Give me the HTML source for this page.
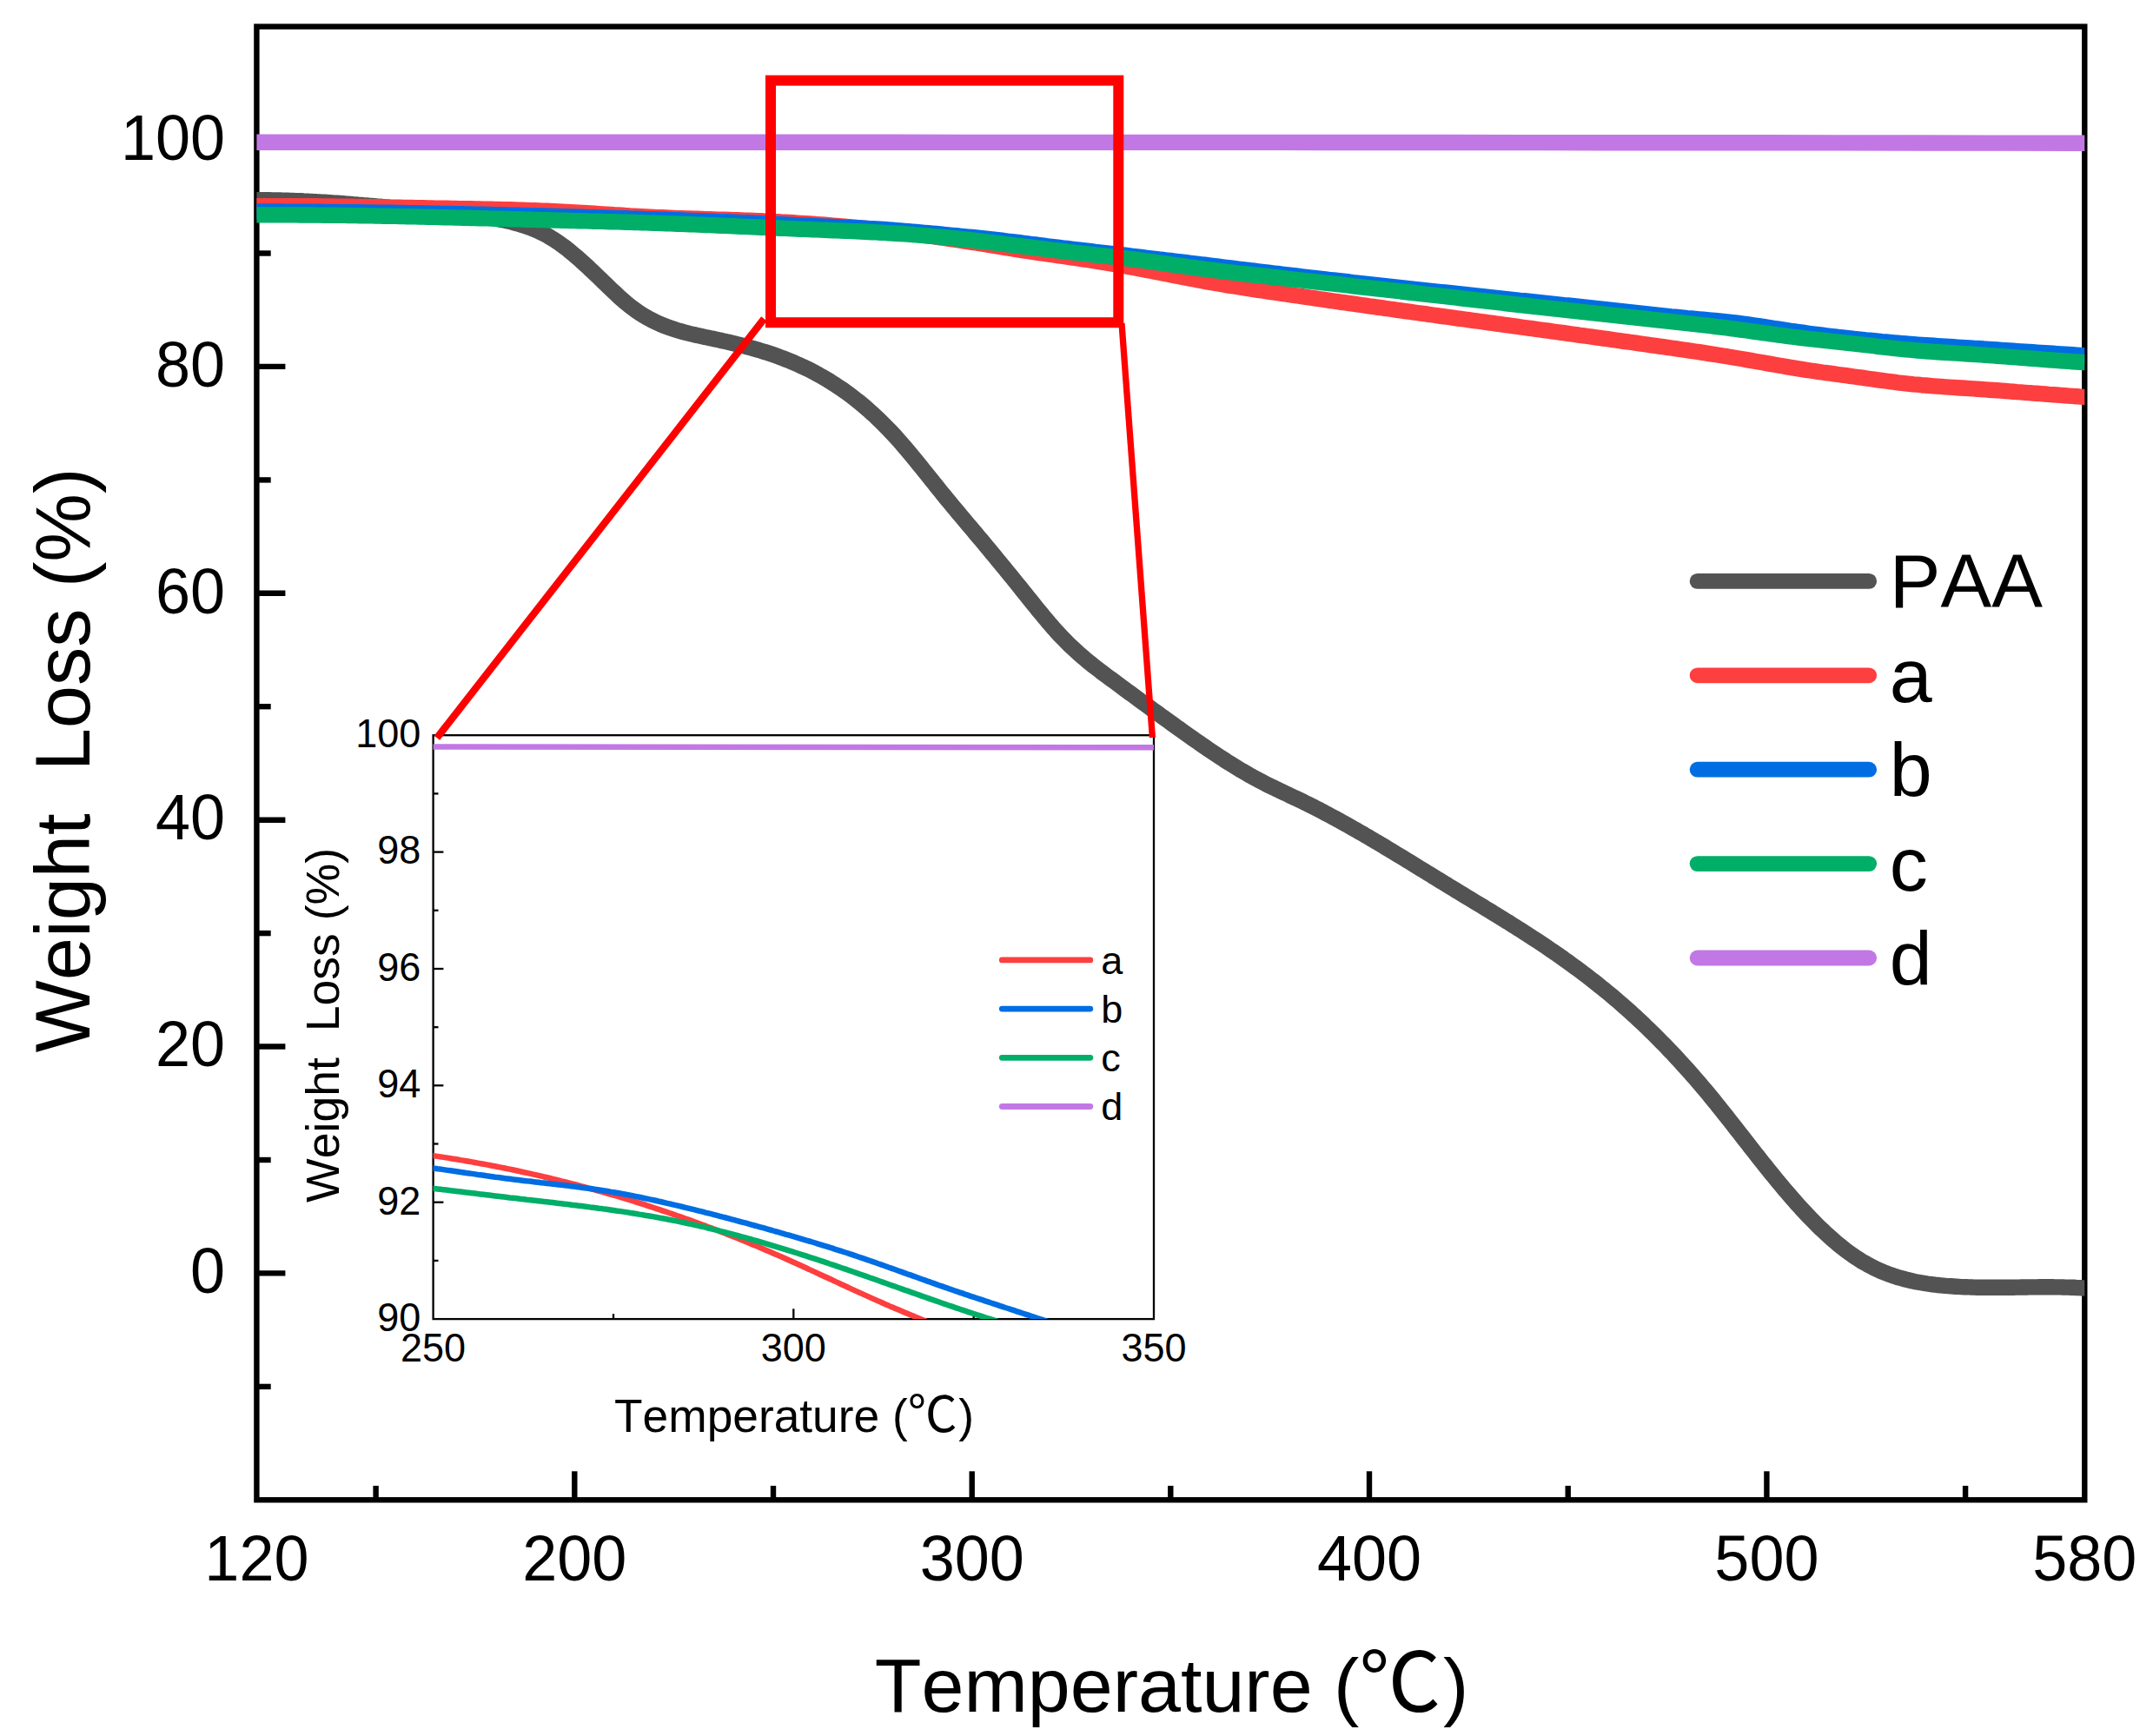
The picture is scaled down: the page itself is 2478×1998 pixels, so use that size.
<!DOCTYPE html>
<html lang="en"><head><meta charset="utf-8"><title>TGA weight loss curves</title>
<style>html,body{margin:0;padding:0;background:#fff}svg{display:block}text{font-family:"Liberation Sans", "Noto Sans CJK SC", sans-serif;fill:#000;font-kerning:none;white-space:pre}</style></head><body>
<svg width="2478" height="1998" viewBox="0 0 2478 1998">
<rect x="0" y="0" width="2478" height="1998" fill="#fff"/>
<defs>
<clipPath id="cm"><rect x="295.4" y="30.6" width="2103.9" height="1695.7"/></clipPath>
<clipPath id="ci"><rect x="498.6" y="846.2" width="829.4" height="671.9"/></clipPath>
</defs>
<g stroke="#000" stroke-width="6.4" fill="none">
<rect x="295.4" y="30.6" width="2103.9" height="1695.7"/>
<line x1="295.4" y1="1465.4" x2="328.4" y2="1465.4"/>
<line x1="295.4" y1="1204.5" x2="328.4" y2="1204.5"/>
<line x1="295.4" y1="943.7" x2="328.4" y2="943.7"/>
<line x1="295.4" y1="682.8" x2="328.4" y2="682.8"/>
<line x1="295.4" y1="421.9" x2="328.4" y2="421.9"/>
<line x1="295.4" y1="161.0" x2="328.4" y2="161.0"/>
<line x1="295.4" y1="1595.9" x2="311.7" y2="1595.9"/>
<line x1="295.4" y1="1335.0" x2="311.7" y2="1335.0"/>
<line x1="295.4" y1="1074.1" x2="311.7" y2="1074.1"/>
<line x1="295.4" y1="813.2" x2="311.7" y2="813.2"/>
<line x1="295.4" y1="552.4" x2="311.7" y2="552.4"/>
<line x1="295.4" y1="291.5" x2="311.7" y2="291.5"/>
<line x1="661.3" y1="1726.3" x2="661.3" y2="1693.3"/>
<line x1="1118.7" y1="1726.3" x2="1118.7" y2="1693.3"/>
<line x1="1576.0" y1="1726.3" x2="1576.0" y2="1693.3"/>
<line x1="2033.4" y1="1726.3" x2="2033.4" y2="1693.3"/>
<line x1="432.6" y1="1726.3" x2="432.6" y2="1710.0"/>
<line x1="890.0" y1="1726.3" x2="890.0" y2="1710.0"/>
<line x1="1347.3" y1="1726.3" x2="1347.3" y2="1710.0"/>
<line x1="1804.7" y1="1726.3" x2="1804.7" y2="1710.0"/>
<line x1="2262.1" y1="1726.3" x2="2262.1" y2="1710.0"/>
</g>
<g clip-path="url(#cm)" fill="none" stroke-width="18.4" stroke-linejoin="round">
<polyline stroke="#535353" points="287.4,230.3 295.4,230.3 298.4,230.3 301.4,230.3 304.4,230.3 307.4,230.3 310.4,230.3 313.4,230.4 316.4,230.4 319.4,230.5 322.4,230.5 325.4,230.6 328.4,230.7 331.4,230.8 334.4,230.9 337.4,231.0 340.4,231.1 343.4,231.2 346.4,231.3 349.4,231.5 352.4,231.6 355.4,231.8 358.4,231.9 361.4,232.1 364.4,232.3 367.4,232.4 370.4,232.6 373.4,232.8 376.4,233.0 379.4,233.2 382.4,233.4 385.4,233.6 388.4,233.8 391.4,234.0 394.4,234.2 397.4,234.5 400.4,234.7 403.4,234.9 406.4,235.2 409.4,235.4 412.4,235.7 415.4,235.9 418.4,236.2 421.4,236.4 424.4,236.7 427.4,236.9 430.4,237.2 433.4,237.5 436.4,237.7 439.4,238.0 442.4,238.3 445.4,238.6 448.4,238.9 451.4,239.1 454.4,239.4 457.4,239.7 460.4,240.0 463.4,240.3 466.4,240.6 469.4,240.9 472.4,241.1 475.4,241.4 478.4,241.7 481.4,242.0 484.4,242.3 487.4,242.6 490.4,242.9 493.4,243.2 496.4,243.5 499.4,243.8 502.4,244.0 505.4,244.3 508.4,244.6 511.4,244.9 514.4,245.2 517.4,245.5 520.4,245.7 523.4,246.0 526.4,246.3 529.4,246.6 532.4,246.9 535.4,247.2 538.4,247.5 541.4,247.8 544.4,248.1 547.4,248.4 550.4,248.8 553.4,249.1 556.4,249.5 559.4,249.9 562.4,250.4 565.4,250.8 568.4,251.3 571.4,251.8 574.4,252.4 577.4,253.0 580.4,253.6 583.4,254.2 586.4,254.9 589.4,255.7 592.4,256.5 595.4,257.3 598.4,258.2 601.4,259.1 604.4,260.0 607.4,261.1 610.4,262.2 613.4,263.3 616.4,264.6 619.4,265.9 622.4,267.3 625.4,268.8 628.4,270.3 631.4,272.0 634.4,273.8 637.4,275.6 640.4,277.6 643.4,279.6 646.4,281.8 649.4,284.0 652.4,286.3 655.4,288.7 658.4,291.2 661.4,293.7 664.4,296.3 667.4,298.9 670.4,301.6 673.4,304.3 676.4,307.1 679.4,309.9 682.4,312.7 685.4,315.6 688.4,318.5 691.4,321.4 694.4,324.3 697.4,327.2 700.4,330.1 703.4,333.0 706.4,335.8 709.4,338.6 712.4,341.4 715.4,344.1 718.4,346.7 721.4,349.2 724.4,351.7 727.4,354.0 730.4,356.3 733.4,358.4 736.4,360.4 739.4,362.3 742.4,364.1 745.4,365.9 748.4,367.5 751.4,369.0 754.4,370.5 757.4,371.9 760.4,373.2 763.4,374.5 766.4,375.6 769.4,376.8 772.4,377.8 775.4,378.8 778.4,379.8 781.4,380.7 784.4,381.5 787.4,382.3 790.4,383.1 793.4,383.9 796.4,384.6 799.4,385.3 802.4,386.0 805.4,386.6 808.4,387.3 811.4,387.9 814.4,388.6 817.4,389.2 820.4,389.8 823.4,390.5 826.4,391.1 829.4,391.8 832.4,392.5 835.4,393.1 838.4,393.8 841.4,394.5 844.4,395.2 847.4,396.0 850.4,396.7 853.4,397.5 856.4,398.2 859.4,399.0 862.4,399.8 865.4,400.7 868.4,401.5 871.4,402.4 874.4,403.3 877.4,404.2 880.4,405.1 883.4,406.1 886.4,407.1 889.4,408.1 892.4,409.1 895.4,410.2 898.4,411.3 901.4,412.4 904.4,413.6 907.4,414.8 910.4,416.0 913.4,417.3 916.4,418.6 919.4,419.9 922.4,421.3 925.4,422.7 928.4,424.1 931.4,425.6 934.4,427.1 937.4,428.7 940.4,430.3 943.4,432.0 946.4,433.6 949.4,435.4 952.4,437.2 955.4,439.0 958.4,440.9 961.4,442.8 964.4,444.8 967.4,446.8 970.4,448.9 973.4,451.0 976.4,453.2 979.4,455.4 982.4,457.7 985.4,460.1 988.4,462.4 991.4,464.9 994.4,467.4 997.4,470.0 1000.4,472.6 1003.4,475.3 1006.4,478.0 1009.4,480.9 1012.4,483.7 1015.4,486.7 1018.4,489.7 1021.4,492.7 1024.4,495.9 1027.4,499.0 1030.4,502.3 1033.4,505.6 1036.4,509.0 1039.4,512.5 1042.4,516.0 1045.4,519.5 1048.4,523.1 1051.4,526.8 1054.4,530.4 1057.4,534.1 1060.4,537.8 1063.4,541.6 1066.4,545.3 1069.4,549.0 1072.4,552.8 1075.4,556.5 1078.4,560.3 1081.4,564.0 1084.4,567.7 1087.4,571.4 1090.4,575.1 1093.4,578.7 1096.4,582.3 1099.4,585.9 1102.4,589.5 1105.4,593.1 1108.4,596.7 1111.4,600.2 1114.4,603.8 1117.4,607.3 1120.4,610.9 1123.4,614.5 1126.4,618.1 1129.4,621.6 1132.4,625.2 1135.4,628.8 1138.4,632.4 1141.4,636.1 1144.4,639.7 1147.4,643.3 1150.4,647.0 1153.4,650.6 1156.4,654.3 1159.4,658.0 1162.4,661.6 1165.4,665.3 1168.4,669.0 1171.4,672.7 1174.4,676.4 1177.4,680.2 1180.4,683.9 1183.4,687.7 1186.4,691.4 1189.4,695.1 1192.4,698.9 1195.4,702.6 1198.4,706.2 1201.4,709.8 1204.4,713.4 1207.4,717.0 1210.4,720.4 1213.4,723.9 1216.4,727.2 1219.4,730.5 1222.4,733.6 1225.4,736.7 1228.4,739.7 1231.4,742.7 1234.4,745.5 1237.4,748.3 1240.4,751.1 1243.4,753.7 1246.4,756.3 1249.4,758.9 1252.4,761.4 1255.4,763.8 1258.4,766.2 1261.4,768.5 1264.4,770.8 1267.4,773.1 1270.4,775.4 1273.4,777.6 1276.4,779.8 1279.4,782.0 1282.4,784.2 1285.4,786.4 1288.4,788.6 1291.4,790.8 1294.4,793.1 1297.4,795.3 1300.4,797.5 1303.4,799.7 1306.4,801.9 1309.4,804.1 1312.4,806.3 1315.4,808.5 1318.4,810.7 1321.4,812.9 1324.4,815.1 1327.4,817.3 1330.4,819.5 1333.4,821.6 1336.4,823.8 1339.4,826.0 1342.4,828.2 1345.4,830.3 1348.4,832.5 1351.4,834.6 1354.4,836.8 1357.4,838.9 1360.4,841.1 1363.4,843.2 1366.4,845.4 1369.4,847.5 1372.4,849.6 1375.4,851.7 1378.4,853.8 1381.4,855.9 1384.4,858.0 1387.4,860.0 1390.4,862.1 1393.4,864.1 1396.4,866.1 1399.4,868.1 1402.4,870.1 1405.4,872.1 1408.4,874.0 1411.4,876.0 1414.4,877.9 1417.4,879.7 1420.4,881.6 1423.4,883.4 1426.4,885.3 1429.4,887.1 1432.4,888.8 1435.4,890.5 1438.4,892.3 1441.4,893.9 1444.4,895.6 1447.4,897.2 1450.4,898.8 1453.4,900.3 1456.4,901.9 1459.4,903.4 1462.4,904.9 1465.4,906.3 1468.4,907.8 1471.4,909.2 1474.4,910.7 1477.4,912.1 1480.4,913.5 1483.4,914.9 1486.4,916.4 1489.4,917.8 1492.4,919.2 1495.4,920.6 1498.4,922.1 1501.4,923.6 1504.4,925.0 1507.4,926.5 1510.4,928.0 1513.4,929.5 1516.4,931.1 1519.4,932.6 1522.4,934.2 1525.4,935.8 1528.4,937.4 1531.4,939.0 1534.4,940.6 1537.4,942.2 1540.4,943.8 1543.4,945.5 1546.4,947.2 1549.4,948.8 1552.4,950.5 1555.4,952.2 1558.4,953.9 1561.4,955.6 1564.4,957.4 1567.4,959.1 1570.4,960.8 1573.4,962.6 1576.4,964.3 1579.4,966.1 1582.4,967.9 1585.4,969.6 1588.4,971.4 1591.4,973.2 1594.4,975.0 1597.4,976.8 1600.4,978.6 1603.4,980.4 1606.4,982.3 1609.4,984.1 1612.4,985.9 1615.4,987.7 1618.4,989.6 1621.4,991.4 1624.4,993.2 1627.4,995.1 1630.4,996.9 1633.4,998.8 1636.4,1000.6 1639.4,1002.4 1642.4,1004.3 1645.4,1006.1 1648.4,1008.0 1651.4,1009.8 1654.4,1011.7 1657.4,1013.5 1660.4,1015.3 1663.4,1017.2 1666.4,1019.0 1669.4,1020.9 1672.4,1022.7 1675.4,1024.5 1678.4,1026.3 1681.4,1028.2 1684.4,1030.0 1687.4,1031.8 1690.4,1033.6 1693.4,1035.4 1696.4,1037.3 1699.4,1039.1 1702.4,1040.9 1705.4,1042.7 1708.4,1044.5 1711.4,1046.4 1714.4,1048.2 1717.4,1050.0 1720.4,1051.9 1723.4,1053.7 1726.4,1055.6 1729.4,1057.4 1732.4,1059.3 1735.4,1061.1 1738.4,1063.0 1741.4,1064.9 1744.4,1066.8 1747.4,1068.7 1750.4,1070.6 1753.4,1072.5 1756.4,1074.4 1759.4,1076.4 1762.4,1078.3 1765.4,1080.3 1768.4,1082.2 1771.4,1084.2 1774.4,1086.2 1777.4,1088.2 1780.4,1090.2 1783.4,1092.3 1786.4,1094.3 1789.4,1096.4 1792.4,1098.4 1795.4,1100.5 1798.4,1102.6 1801.4,1104.8 1804.4,1106.9 1807.4,1109.1 1810.4,1111.3 1813.4,1113.5 1816.4,1115.7 1819.4,1117.9 1822.4,1120.2 1825.4,1122.4 1828.4,1124.7 1831.4,1127.1 1834.4,1129.4 1837.4,1131.8 1840.4,1134.2 1843.4,1136.6 1846.4,1139.0 1849.4,1141.5 1852.4,1143.9 1855.4,1146.4 1858.4,1149.0 1861.4,1151.5 1864.4,1154.1 1867.4,1156.7 1870.4,1159.4 1873.4,1162.0 1876.4,1164.7 1879.4,1167.5 1882.4,1170.2 1885.4,1173.0 1888.4,1175.8 1891.4,1178.6 1894.4,1181.5 1897.4,1184.4 1900.4,1187.3 1903.4,1190.2 1906.4,1193.2 1909.4,1196.2 1912.4,1199.3 1915.4,1202.3 1918.4,1205.4 1921.4,1208.6 1924.4,1211.7 1927.4,1214.9 1930.4,1218.1 1933.4,1221.4 1936.4,1224.7 1939.4,1228.0 1942.4,1231.3 1945.4,1234.7 1948.4,1238.1 1951.4,1241.5 1954.4,1245.0 1957.4,1248.5 1960.4,1252.1 1963.4,1255.6 1966.4,1259.2 1969.4,1262.9 1972.4,1266.5 1975.4,1270.2 1978.4,1274.0 1981.4,1277.7 1984.4,1281.5 1987.4,1285.3 1990.4,1289.1 1993.4,1292.9 1996.4,1296.7 1999.4,1300.6 2002.4,1304.4 2005.4,1308.2 2008.4,1312.1 2011.4,1315.9 2014.4,1319.8 2017.4,1323.6 2020.4,1327.5 2023.4,1331.3 2026.4,1335.1 2029.4,1338.9 2032.4,1342.6 2035.4,1346.4 2038.4,1350.1 2041.4,1353.8 2044.4,1357.5 2047.4,1361.1 2050.4,1364.7 2053.4,1368.3 2056.4,1371.8 2059.4,1375.3 2062.4,1378.8 2065.4,1382.2 2068.4,1385.6 2071.4,1388.9 2074.4,1392.2 2077.4,1395.4 2080.4,1398.6 2083.4,1401.8 2086.4,1404.8 2089.4,1407.9 2092.4,1410.9 2095.4,1413.8 2098.4,1416.6 2101.4,1419.5 2104.4,1422.2 2107.4,1424.9 2110.4,1427.5 2113.4,1430.1 2116.4,1432.6 2119.4,1435.0 2122.4,1437.4 2125.4,1439.7 2128.4,1441.9 2131.4,1444.0 2134.4,1446.1 2137.4,1448.1 2140.4,1450.0 2143.4,1451.9 2146.4,1453.6 2149.4,1455.3 2152.4,1456.9 2155.4,1458.5 2158.4,1460.0 2161.4,1461.4 2164.4,1462.7 2167.4,1464.0 2170.4,1465.2 2173.4,1466.3 2176.4,1467.4 2179.4,1468.5 2182.4,1469.4 2185.4,1470.4 2188.4,1471.2 2191.4,1472.0 2194.4,1472.8 2197.4,1473.5 2200.4,1474.2 2203.4,1474.9 2206.4,1475.5 2209.4,1476.0 2212.4,1476.5 2215.4,1477.0 2218.4,1477.5 2221.4,1477.9 2224.4,1478.3 2227.4,1478.7 2230.4,1479.0 2233.4,1479.3 2236.4,1479.6 2239.4,1479.9 2242.4,1480.1 2245.4,1480.3 2248.4,1480.5 2251.4,1480.7 2254.4,1480.9 2257.4,1481.1 2260.4,1481.2 2263.4,1481.3 2266.4,1481.4 2269.4,1481.5 2272.4,1481.6 2275.4,1481.7 2278.4,1481.7 2281.4,1481.8 2284.4,1481.8 2287.4,1481.8 2290.4,1481.8 2293.4,1481.8 2296.4,1481.8 2299.4,1481.8 2302.4,1481.8 2305.4,1481.8 2308.4,1481.8 2311.4,1481.7 2314.4,1481.7 2317.4,1481.7 2320.4,1481.6 2323.4,1481.6 2326.4,1481.5 2329.4,1481.5 2332.4,1481.5 2335.4,1481.4 2338.4,1481.4 2341.4,1481.4 2344.4,1481.4 2347.4,1481.3 2350.4,1481.3 2353.4,1481.3 2356.4,1481.3 2359.4,1481.3 2362.4,1481.3 2365.4,1481.4 2368.4,1481.4 2371.4,1481.4 2374.4,1481.5 2377.4,1481.6 2380.4,1481.6 2383.4,1481.7 2386.4,1481.8 2389.4,1482.0 2392.4,1482.1 2395.4,1482.3 2398.4,1482.4 2399.3,1482.5 2407.3,1482.5"/>
<polyline stroke="#fd3f3f" points="286.3,237.2 290.8,237.2 295.4,237.2 300.0,237.2 304.5,237.2 309.1,237.1 313.7,237.1 318.3,237.1 322.8,237.1 327.4,237.1 332.0,237.1 336.6,237.1 341.1,237.2 345.7,237.2 350.3,237.2 354.9,237.2 359.4,237.3 364.0,237.3 368.6,237.4 373.2,237.4 377.7,237.4 382.3,237.5 386.9,237.6 391.4,237.6 396.0,237.7 400.6,237.7 405.2,237.8 409.7,237.9 414.3,238.0 418.9,238.0 423.5,238.1 428.0,238.2 432.6,238.3 437.2,238.3 441.8,238.4 446.3,238.5 450.9,238.6 455.5,238.7 460.1,238.8 464.6,238.9 469.2,238.9 473.8,239.0 478.3,239.1 482.9,239.2 487.5,239.3 492.1,239.4 496.6,239.5 501.2,239.6 505.8,239.6 510.4,239.7 514.9,239.8 519.5,239.9 524.1,240.0 528.7,240.1 533.2,240.1 537.8,240.2 542.4,240.3 547.0,240.4 551.5,240.5 556.1,240.6 560.7,240.7 565.2,240.8 569.8,240.9 574.4,241.0 579.0,241.1 583.5,241.2 588.1,241.3 592.7,241.5 597.3,241.6 601.8,241.7 606.4,241.9 611.0,242.1 615.6,242.2 620.1,242.4 624.7,242.6 629.3,242.8 633.9,243.0 638.4,243.2 643.0,243.5 647.6,243.7 652.1,243.9 656.7,244.2 661.3,244.5 665.9,244.7 670.4,245.0 675.0,245.3 679.6,245.5 684.2,245.8 688.7,246.1 693.3,246.4 697.9,246.7 702.5,247.0 707.0,247.3 711.6,247.5 716.2,247.8 720.8,248.1 725.3,248.4 729.9,248.6 734.5,248.9 739.0,249.1 743.6,249.4 748.2,249.6 752.8,249.9 757.3,250.1 761.9,250.3 766.5,250.5 771.1,250.7 775.6,250.9 780.2,251.1 784.8,251.2 789.4,251.4 793.9,251.5 798.5,251.7 803.1,251.8 807.7,252.0 812.2,252.1 816.8,252.3 821.4,252.4 825.9,252.6 830.5,252.7 835.1,252.8 839.7,253.0 844.2,253.1 848.8,253.3 853.4,253.5 858.0,253.6 862.5,253.8 867.1,254.0 871.7,254.2 876.3,254.3 880.8,254.6 885.4,254.8 890.0,255.0 894.6,255.2 899.1,255.5 903.7,255.7 908.3,256.0 912.8,256.3 917.4,256.6 922.0,256.9 926.6,257.2 931.1,257.5 935.7,257.8 940.3,258.1 944.9,258.5 949.4,258.8 954.0,259.2 958.6,259.6 963.2,259.9 967.7,260.3 972.3,260.7 976.9,261.1 981.5,261.6 986.0,262.0 990.6,262.4 995.2,262.9 999.7,263.3 1004.3,263.8 1008.9,264.3 1013.5,264.8 1018.0,265.3 1022.6,265.8 1027.2,266.3 1031.8,266.8 1036.3,267.4 1040.9,267.9 1045.5,268.5 1050.1,269.0 1054.6,269.6 1059.2,270.2 1063.8,270.8 1068.4,271.4 1072.9,272.0 1077.5,272.7 1082.1,273.3 1086.6,273.9 1091.2,274.6 1095.8,275.3 1100.4,276.0 1104.9,276.6 1109.5,277.4 1114.1,278.1 1118.7,278.8 1123.2,279.5 1127.8,280.3 1132.4,281.0 1137.0,281.7 1141.5,282.5 1146.1,283.2 1150.7,284.0 1155.3,284.7 1159.8,285.5 1164.4,286.2 1169.0,286.9 1173.5,287.6 1178.1,288.3 1182.7,289.0 1187.3,289.7 1191.8,290.4 1196.4,291.1 1201.0,291.7 1205.6,292.4 1210.1,293.0 1214.7,293.7 1219.3,294.3 1223.9,295.0 1228.4,295.7 1233.0,296.3 1237.6,297.0 1242.2,297.6 1246.7,298.3 1251.3,299.0 1255.9,299.7 1260.4,300.4 1265.0,301.1 1269.6,301.8 1274.2,302.6 1278.7,303.4 1283.3,304.1 1287.9,304.9 1292.5,305.7 1297.0,306.6 1301.6,307.4 1306.2,308.2 1310.8,309.1 1315.3,310.0 1319.9,310.9 1324.5,311.7 1329.1,312.6 1333.6,313.5 1338.2,314.4 1342.8,315.3 1347.3,316.2 1351.9,317.1 1356.5,318.0 1361.1,318.9 1365.6,319.8 1370.2,320.7 1374.8,321.5 1379.4,322.4 1383.9,323.2 1388.5,324.1 1393.1,324.9 1397.7,325.7 1402.2,326.5 1406.8,327.3 1411.4,328.1 1416.0,328.8 1420.5,329.5 1425.1,330.3 1429.7,331.0 1434.3,331.7 1438.8,332.4 1443.4,333.1 1448.0,333.8 1452.5,334.5 1457.1,335.1 1461.7,335.8 1466.3,336.5 1470.8,337.2 1475.4,337.8 1480.0,338.5 1484.6,339.2 1489.1,339.9 1493.7,340.5 1498.3,341.2 1502.9,341.8 1507.4,342.5 1512.0,343.2 1516.6,343.8 1521.2,344.5 1525.7,345.1 1530.3,345.8 1534.9,346.5 1539.4,347.1 1544.0,347.8 1548.6,348.4 1553.2,349.1 1557.7,349.7 1562.3,350.4 1566.9,351.0 1571.5,351.6 1576.0,352.3 1580.6,352.9 1585.2,353.6 1589.8,354.2 1594.3,354.9 1598.9,355.5 1603.5,356.1 1608.1,356.8 1612.6,357.4 1617.2,358.1 1621.8,358.7 1626.3,359.3 1630.9,360.0 1635.5,360.6 1640.1,361.2 1644.6,361.9 1649.2,362.5 1653.8,363.1 1658.4,363.8 1662.9,364.4 1667.5,365.0 1672.1,365.6 1676.7,366.3 1681.2,366.9 1685.8,367.5 1690.4,368.2 1695.0,368.8 1699.5,369.4 1704.1,370.0 1708.7,370.7 1713.2,371.3 1717.8,371.9 1722.4,372.6 1727.0,373.2 1731.5,373.8 1736.1,374.4 1740.7,375.1 1745.3,375.7 1749.8,376.3 1754.4,377.0 1759.0,377.6 1763.6,378.2 1768.1,378.8 1772.7,379.5 1777.3,380.1 1781.9,380.7 1786.4,381.4 1791.0,382.0 1795.6,382.6 1800.1,383.2 1804.7,383.9 1809.3,384.5 1813.9,385.1 1818.4,385.8 1823.0,386.4 1827.6,387.0 1832.2,387.7 1836.7,388.3 1841.3,388.9 1845.9,389.6 1850.5,390.2 1855.0,390.8 1859.6,391.5 1864.2,392.1 1868.8,392.8 1873.3,393.4 1877.9,394.0 1882.5,394.7 1887.0,395.3 1891.6,396.0 1896.2,396.6 1900.8,397.3 1905.3,397.9 1909.9,398.6 1914.5,399.2 1919.1,399.9 1923.6,400.5 1928.2,401.2 1932.8,401.8 1937.4,402.5 1941.9,403.2 1946.5,403.9 1951.1,404.5 1955.7,405.2 1960.2,405.9 1964.8,406.6 1969.4,407.3 1973.9,408.0 1978.5,408.8 1983.1,409.5 1987.7,410.2 1992.2,411.0 1996.8,411.8 2001.4,412.5 2006.0,413.3 2010.5,414.1 2015.1,414.9 2019.7,415.7 2024.3,416.5 2028.8,417.3 2033.4,418.1 2038.0,418.9 2042.6,419.7 2047.1,420.5 2051.7,421.3 2056.3,422.1 2060.8,422.8 2065.4,423.6 2070.0,424.3 2074.6,425.1 2079.1,425.8 2083.7,426.5 2088.3,427.1 2092.9,427.8 2097.4,428.5 2102.0,429.1 2106.6,429.7 2111.2,430.4 2115.7,431.0 2120.3,431.6 2124.9,432.2 2129.5,432.9 2134.0,433.5 2138.6,434.1 2143.2,434.7 2147.7,435.4 2152.3,436.0 2156.9,436.6 2161.5,437.3 2166.0,437.9 2170.6,438.5 2175.2,439.1 2179.8,439.7 2184.3,440.3 2188.9,440.8 2193.5,441.3 2198.1,441.8 2202.6,442.3 2207.2,442.7 2211.8,443.2 2216.4,443.5 2220.9,443.9 2225.5,444.3 2230.1,444.6 2234.6,444.9 2239.2,445.3 2243.8,445.6 2248.4,445.9 2252.9,446.2 2257.5,446.5 2262.1,446.8 2266.7,447.1 2271.2,447.4 2275.8,447.7 2280.4,448.0 2285.0,448.4 2289.5,448.7 2294.1,449.0 2298.7,449.3 2303.3,449.7 2307.8,450.0 2312.4,450.4 2317.0,450.7 2321.5,451.1 2326.1,451.4 2330.7,451.8 2335.3,452.1 2339.8,452.5 2344.4,452.8 2349.0,453.2 2353.6,453.5 2358.1,453.9 2362.7,454.2 2367.3,454.5 2371.9,454.9 2376.4,455.2 2381.0,455.6 2385.6,455.9 2390.2,456.2 2394.7,456.6 2399.3,456.9 2403.9,456.9 2408.4,456.9"/>
<polyline stroke="#006de3" points="286.3,243.5 290.8,243.5 295.4,243.5 300.0,243.5 304.5,243.5 309.1,243.5 313.7,243.5 318.3,243.5 322.8,243.5 327.4,243.6 332.0,243.6 336.6,243.6 341.1,243.6 345.7,243.7 350.3,243.7 354.9,243.7 359.4,243.8 364.0,243.8 368.6,243.8 373.2,243.9 377.7,243.9 382.3,244.0 386.9,244.0 391.4,244.1 396.0,244.1 400.6,244.2 405.2,244.2 409.7,244.3 414.3,244.3 418.9,244.4 423.5,244.4 428.0,244.5 432.6,244.6 437.2,244.6 441.8,244.7 446.3,244.7 450.9,244.8 455.5,244.9 460.1,245.0 464.6,245.0 469.2,245.1 473.8,245.2 478.3,245.3 482.9,245.3 487.5,245.4 492.1,245.5 496.6,245.6 501.2,245.7 505.8,245.8 510.4,245.9 514.9,245.9 519.5,246.0 524.1,246.1 528.7,246.2 533.2,246.3 537.8,246.4 542.4,246.5 547.0,246.6 551.5,246.7 556.1,246.8 560.7,246.9 565.2,247.0 569.8,247.1 574.4,247.2 579.0,247.4 583.5,247.5 588.1,247.6 592.7,247.7 597.3,247.8 601.8,247.9 606.4,248.0 611.0,248.2 615.6,248.3 620.1,248.4 624.7,248.5 629.3,248.6 633.9,248.8 638.4,248.9 643.0,249.0 647.6,249.2 652.1,249.3 656.7,249.4 661.3,249.5 665.9,249.7 670.4,249.8 675.0,249.9 679.6,250.1 684.2,250.2 688.7,250.4 693.3,250.5 697.9,250.6 702.5,250.8 707.0,250.9 711.6,251.1 716.2,251.2 720.8,251.3 725.3,251.5 729.9,251.6 734.5,251.8 739.0,251.9 743.6,252.1 748.2,252.2 752.8,252.4 757.3,252.5 761.9,252.7 766.5,252.8 771.1,253.0 775.6,253.1 780.2,253.3 784.8,253.5 789.4,253.6 793.9,253.8 798.5,253.9 803.1,254.1 807.7,254.3 812.2,254.4 816.8,254.6 821.4,254.8 825.9,255.0 830.5,255.1 835.1,255.3 839.7,255.5 844.2,255.7 848.8,255.9 853.4,256.1 858.0,256.3 862.5,256.5 867.1,256.7 871.7,256.9 876.3,257.1 880.8,257.3 885.4,257.5 890.0,257.8 894.6,258.0 899.1,258.2 903.7,258.5 908.3,258.7 912.8,258.9 917.4,259.2 922.0,259.4 926.6,259.6 931.1,259.8 935.7,260.0 940.3,260.3 944.9,260.4 949.4,260.6 954.0,260.8 958.6,261.0 963.2,261.2 967.7,261.4 972.3,261.6 976.9,261.8 981.5,262.0 986.0,262.2 990.6,262.4 995.2,262.6 999.7,262.9 1004.3,263.1 1008.9,263.4 1013.5,263.7 1018.0,264.0 1022.6,264.4 1027.2,264.7 1031.8,265.1 1036.3,265.4 1040.9,265.8 1045.5,266.2 1050.1,266.6 1054.6,267.0 1059.2,267.4 1063.8,267.8 1068.4,268.2 1072.9,268.6 1077.5,269.0 1082.1,269.4 1086.6,269.9 1091.2,270.3 1095.8,270.8 1100.4,271.2 1104.9,271.7 1109.5,272.1 1114.1,272.6 1118.7,273.0 1123.2,273.5 1127.8,274.0 1132.4,274.5 1137.0,275.0 1141.5,275.5 1146.1,276.0 1150.7,276.5 1155.3,277.0 1159.8,277.6 1164.4,278.1 1169.0,278.7 1173.5,279.2 1178.1,279.8 1182.7,280.4 1187.3,281.0 1191.8,281.5 1196.4,282.1 1201.0,282.7 1205.6,283.3 1210.1,283.8 1214.7,284.4 1219.3,284.9 1223.9,285.5 1228.4,286.0 1233.0,286.6 1237.6,287.1 1242.2,287.7 1246.7,288.2 1251.3,288.7 1255.9,289.2 1260.4,289.8 1265.0,290.3 1269.6,290.8 1274.2,291.4 1278.7,291.9 1283.3,292.4 1287.9,293.0 1292.5,293.5 1297.0,294.0 1301.6,294.6 1306.2,295.1 1310.8,295.7 1315.3,296.2 1319.9,296.8 1324.5,297.3 1329.1,297.8 1333.6,298.4 1338.2,298.9 1342.8,299.5 1347.3,300.0 1351.9,300.6 1356.5,301.1 1361.1,301.7 1365.6,302.2 1370.2,302.8 1374.8,303.4 1379.4,303.9 1383.9,304.5 1388.5,305.0 1393.1,305.6 1397.7,306.1 1402.2,306.7 1406.8,307.3 1411.4,307.8 1416.0,308.4 1420.5,308.9 1425.1,309.5 1429.7,310.1 1434.3,310.6 1438.8,311.2 1443.4,311.7 1448.0,312.3 1452.5,312.8 1457.1,313.4 1461.7,313.9 1466.3,314.5 1470.8,315.0 1475.4,315.6 1480.0,316.1 1484.6,316.7 1489.1,317.2 1493.7,317.7 1498.3,318.3 1502.9,318.8 1507.4,319.3 1512.0,319.9 1516.6,320.4 1521.2,320.9 1525.7,321.4 1530.3,322.0 1534.9,322.5 1539.4,323.0 1544.0,323.5 1548.6,324.0 1553.2,324.5 1557.7,325.1 1562.3,325.6 1566.9,326.1 1571.5,326.6 1576.0,327.1 1580.6,327.6 1585.2,328.1 1589.8,328.6 1594.3,329.1 1598.9,329.6 1603.5,330.1 1608.1,330.6 1612.6,331.1 1617.2,331.6 1621.8,332.1 1626.3,332.6 1630.9,333.1 1635.5,333.6 1640.1,334.1 1644.6,334.6 1649.2,335.1 1653.8,335.6 1658.4,336.1 1662.9,336.5 1667.5,337.0 1672.1,337.5 1676.7,338.0 1681.2,338.5 1685.8,339.0 1690.4,339.5 1695.0,340.0 1699.5,340.4 1704.1,340.9 1708.7,341.4 1713.2,341.9 1717.8,342.4 1722.4,342.9 1727.0,343.3 1731.5,343.8 1736.1,344.3 1740.7,344.8 1745.3,345.3 1749.8,345.8 1754.4,346.2 1759.0,346.7 1763.6,347.2 1768.1,347.7 1772.7,348.2 1777.3,348.6 1781.9,349.1 1786.4,349.6 1791.0,350.1 1795.6,350.6 1800.1,351.1 1804.7,351.5 1809.3,352.0 1813.9,352.5 1818.4,353.0 1823.0,353.5 1827.6,354.0 1832.2,354.5 1836.7,354.9 1841.3,355.4 1845.9,355.9 1850.5,356.4 1855.0,356.9 1859.6,357.4 1864.2,357.9 1868.8,358.4 1873.3,358.8 1877.9,359.3 1882.5,359.8 1887.0,360.3 1891.6,360.8 1896.2,361.3 1900.8,361.8 1905.3,362.3 1909.9,362.8 1914.5,363.3 1919.1,363.8 1923.6,364.3 1928.2,364.7 1932.8,365.2 1937.4,365.6 1941.9,366.1 1946.5,366.5 1951.1,366.9 1955.7,367.3 1960.2,367.7 1964.8,368.1 1969.4,368.6 1973.9,369.0 1978.5,369.4 1983.1,369.9 1987.7,370.3 1992.2,370.8 1996.8,371.4 2001.4,371.9 2006.0,372.5 2010.5,373.1 2015.1,373.8 2019.7,374.5 2024.3,375.1 2028.8,375.8 2033.4,376.5 2038.0,377.3 2042.6,378.0 2047.1,378.7 2051.7,379.4 2056.3,380.1 2060.8,380.8 2065.4,381.4 2070.0,382.1 2074.6,382.7 2079.1,383.4 2083.7,384.0 2088.3,384.6 2092.9,385.1 2097.4,385.7 2102.0,386.3 2106.6,386.8 2111.2,387.3 2115.7,387.9 2120.3,388.4 2124.9,388.9 2129.5,389.4 2134.0,389.9 2138.6,390.3 2143.2,390.8 2147.7,391.3 2152.3,391.7 2156.9,392.2 2161.5,392.6 2166.0,393.1 2170.6,393.5 2175.2,393.9 2179.8,394.3 2184.3,394.7 2188.9,395.1 2193.5,395.5 2198.1,395.9 2202.6,396.2 2207.2,396.6 2211.8,396.9 2216.4,397.2 2220.9,397.5 2225.5,397.8 2230.1,398.1 2234.6,398.4 2239.2,398.7 2243.8,399.0 2248.4,399.3 2252.9,399.6 2257.5,399.9 2262.1,400.2 2266.7,400.5 2271.2,400.8 2275.8,401.0 2280.4,401.3 2285.0,401.6 2289.5,401.9 2294.1,402.2 2298.7,402.5 2303.3,402.9 2307.8,403.2 2312.4,403.5 2317.0,403.8 2321.5,404.1 2326.1,404.4 2330.7,404.7 2335.3,405.0 2339.8,405.3 2344.4,405.6 2349.0,405.9 2353.6,406.2 2358.1,406.5 2362.7,406.8 2367.3,407.1 2371.9,407.4 2376.4,407.7 2381.0,408.0 2385.6,408.3 2390.2,408.6 2394.7,408.9 2399.3,409.1 2403.9,409.1 2408.4,409.1"/>
<polyline stroke="#00ae68" points="286.3,247.4 290.8,247.4 295.4,247.4 300.0,247.4 304.5,247.4 309.1,247.4 313.7,247.4 318.3,247.4 322.8,247.4 327.4,247.4 332.0,247.4 336.6,247.4 341.1,247.4 345.7,247.5 350.3,247.5 354.9,247.5 359.4,247.5 364.0,247.6 368.6,247.6 373.2,247.7 377.7,247.7 382.3,247.8 386.9,247.8 391.4,247.9 396.0,247.9 400.6,248.0 405.2,248.1 409.7,248.1 414.3,248.2 418.9,248.3 423.5,248.4 428.0,248.4 432.6,248.5 437.2,248.6 441.8,248.7 446.3,248.8 450.9,248.9 455.5,248.9 460.1,249.0 464.6,249.1 469.2,249.2 473.8,249.3 478.3,249.4 482.9,249.5 487.5,249.6 492.1,249.7 496.6,249.8 501.2,249.9 505.8,250.1 510.4,250.2 514.9,250.3 519.5,250.4 524.1,250.5 528.7,250.6 533.2,250.7 537.8,250.8 542.4,251.0 547.0,251.1 551.5,251.2 556.1,251.3 560.7,251.4 565.2,251.6 569.8,251.7 574.4,251.8 579.0,251.9 583.5,252.0 588.1,252.2 592.7,252.3 597.3,252.4 601.8,252.5 606.4,252.7 611.0,252.8 615.6,252.9 620.1,253.0 624.7,253.1 629.3,253.3 633.9,253.4 638.4,253.5 643.0,253.6 647.6,253.7 652.1,253.8 656.7,254.0 661.3,254.1 665.9,254.2 670.4,254.3 675.0,254.4 679.6,254.6 684.2,254.7 688.7,254.8 693.3,254.9 697.9,255.1 702.5,255.2 707.0,255.3 711.6,255.4 716.2,255.6 720.8,255.7 725.3,255.8 729.9,256.0 734.5,256.1 739.0,256.3 743.6,256.4 748.2,256.6 752.8,256.7 757.3,256.9 761.9,257.0 766.5,257.2 771.1,257.4 775.6,257.5 780.2,257.7 784.8,257.9 789.4,258.0 793.9,258.2 798.5,258.4 803.1,258.6 807.7,258.8 812.2,259.0 816.8,259.1 821.4,259.3 825.9,259.5 830.5,259.7 835.1,259.9 839.7,260.1 844.2,260.3 848.8,260.5 853.4,260.7 858.0,260.9 862.5,261.1 867.1,261.3 871.7,261.5 876.3,261.7 880.8,261.9 885.4,262.1 890.0,262.3 894.6,262.5 899.1,262.7 903.7,262.9 908.3,263.1 912.8,263.3 917.4,263.5 922.0,263.7 926.6,263.9 931.1,264.0 935.7,264.2 940.3,264.4 944.9,264.6 949.4,264.8 954.0,265.0 958.6,265.2 963.2,265.4 967.7,265.5 972.3,265.7 976.9,265.9 981.5,266.1 986.0,266.3 990.6,266.5 995.2,266.7 999.7,267.0 1004.3,267.2 1008.9,267.4 1013.5,267.7 1018.0,267.9 1022.6,268.2 1027.2,268.5 1031.8,268.7 1036.3,269.0 1040.9,269.3 1045.5,269.7 1050.1,270.0 1054.6,270.4 1059.2,270.7 1063.8,271.1 1068.4,271.5 1072.9,271.9 1077.5,272.3 1082.1,272.7 1086.6,273.2 1091.2,273.6 1095.8,274.1 1100.4,274.5 1104.9,275.0 1109.5,275.5 1114.1,276.0 1118.7,276.5 1123.2,277.0 1127.8,277.5 1132.4,278.1 1137.0,278.6 1141.5,279.1 1146.1,279.7 1150.7,280.2 1155.3,280.8 1159.8,281.3 1164.4,281.9 1169.0,282.5 1173.5,283.0 1178.1,283.6 1182.7,284.2 1187.3,284.7 1191.8,285.3 1196.4,285.9 1201.0,286.4 1205.6,287.0 1210.1,287.6 1214.7,288.1 1219.3,288.7 1223.9,289.2 1228.4,289.8 1233.0,290.3 1237.6,290.8 1242.2,291.3 1246.7,291.8 1251.3,292.3 1255.9,292.8 1260.4,293.3 1265.0,293.8 1269.6,294.3 1274.2,294.8 1278.7,295.3 1283.3,295.8 1287.9,296.4 1292.5,296.9 1297.0,297.5 1301.6,298.1 1306.2,298.7 1310.8,299.3 1315.3,299.9 1319.9,300.5 1324.5,301.1 1329.1,301.8 1333.6,302.4 1338.2,303.0 1342.8,303.7 1347.3,304.3 1351.9,305.0 1356.5,305.6 1361.1,306.2 1365.6,306.9 1370.2,307.5 1374.8,308.1 1379.4,308.8 1383.9,309.4 1388.5,310.0 1393.1,310.6 1397.7,311.2 1402.2,311.7 1406.8,312.3 1411.4,312.9 1416.0,313.4 1420.5,313.9 1425.1,314.5 1429.7,315.0 1434.3,315.5 1438.8,316.0 1443.4,316.5 1448.0,317.0 1452.5,317.5 1457.1,318.0 1461.7,318.5 1466.3,319.0 1470.8,319.5 1475.4,320.0 1480.0,320.6 1484.6,321.1 1489.1,321.6 1493.7,322.1 1498.3,322.6 1502.9,323.1 1507.4,323.6 1512.0,324.1 1516.6,324.6 1521.2,325.1 1525.7,325.7 1530.3,326.2 1534.9,326.7 1539.4,327.2 1544.0,327.7 1548.6,328.2 1553.2,328.7 1557.7,329.3 1562.3,329.8 1566.9,330.3 1571.5,330.8 1576.0,331.3 1580.6,331.8 1585.2,332.4 1589.8,332.9 1594.3,333.4 1598.9,333.9 1603.5,334.4 1608.1,334.9 1612.6,335.5 1617.2,336.0 1621.8,336.5 1626.3,337.0 1630.9,337.5 1635.5,338.1 1640.1,338.6 1644.6,339.1 1649.2,339.6 1653.8,340.1 1658.4,340.7 1662.9,341.2 1667.5,341.7 1672.1,342.2 1676.7,342.7 1681.2,343.3 1685.8,343.8 1690.4,344.3 1695.0,344.8 1699.5,345.3 1704.1,345.8 1708.7,346.4 1713.2,346.9 1717.8,347.4 1722.4,347.9 1727.0,348.4 1731.5,349.0 1736.1,349.5 1740.7,350.0 1745.3,350.5 1749.8,351.0 1754.4,351.5 1759.0,352.0 1763.6,352.6 1768.1,353.1 1772.7,353.6 1777.3,354.1 1781.9,354.6 1786.4,355.1 1791.0,355.6 1795.6,356.1 1800.1,356.6 1804.7,357.2 1809.3,357.7 1813.9,358.2 1818.4,358.7 1823.0,359.2 1827.6,359.7 1832.2,360.2 1836.7,360.7 1841.3,361.2 1845.9,361.7 1850.5,362.2 1855.0,362.7 1859.6,363.2 1864.2,363.7 1868.8,364.2 1873.3,364.7 1877.9,365.2 1882.5,365.7 1887.0,366.2 1891.6,366.7 1896.2,367.2 1900.8,367.6 1905.3,368.1 1909.9,368.6 1914.5,369.1 1919.1,369.6 1923.6,370.1 1928.2,370.6 1932.8,371.1 1937.4,371.6 1941.9,372.1 1946.5,372.6 1951.1,373.1 1955.7,373.6 1960.2,374.2 1964.8,374.7 1969.4,375.2 1973.9,375.8 1978.5,376.3 1983.1,376.9 1987.7,377.5 1992.2,378.1 1996.8,378.7 2001.4,379.3 2006.0,379.9 2010.5,380.5 2015.1,381.1 2019.7,381.8 2024.3,382.4 2028.8,383.1 2033.4,383.7 2038.0,384.3 2042.6,385.0 2047.1,385.6 2051.7,386.2 2056.3,386.8 2060.8,387.4 2065.4,388.0 2070.0,388.5 2074.6,389.1 2079.1,389.6 2083.7,390.1 2088.3,390.6 2092.9,391.1 2097.4,391.6 2102.0,392.1 2106.6,392.6 2111.2,393.1 2115.7,393.6 2120.3,394.1 2124.9,394.6 2129.5,395.1 2134.0,395.6 2138.6,396.1 2143.2,396.6 2147.7,397.2 2152.3,397.7 2156.9,398.2 2161.5,398.8 2166.0,399.3 2170.6,399.8 2175.2,400.3 2179.8,400.8 2184.3,401.3 2188.9,401.8 2193.5,402.3 2198.1,402.7 2202.6,403.1 2207.2,403.5 2211.8,403.9 2216.4,404.2 2220.9,404.5 2225.5,404.9 2230.1,405.2 2234.6,405.5 2239.2,405.7 2243.8,406.0 2248.4,406.3 2252.9,406.6 2257.5,406.9 2262.1,407.2 2266.7,407.5 2271.2,407.8 2275.8,408.1 2280.4,408.4 2285.0,408.7 2289.5,409.1 2294.1,409.4 2298.7,409.7 2303.3,410.1 2307.8,410.4 2312.4,410.7 2317.0,411.1 2321.5,411.4 2326.1,411.8 2330.7,412.1 2335.3,412.5 2339.8,412.8 2344.4,413.2 2349.0,413.5 2353.6,413.9 2358.1,414.2 2362.7,414.5 2367.3,414.9 2371.9,415.2 2376.4,415.5 2381.0,415.9 2385.6,416.2 2390.2,416.5 2394.7,416.8 2399.3,417.1 2403.9,417.1 2408.4,417.1"/>
<polyline stroke="#c278e4" points="286.3,163.8 377.7,163.8 469.2,163.8 560.7,163.8 652.1,163.8 743.6,163.8 835.1,163.8 926.6,163.8 1018.0,163.8 1109.5,163.9 1201.0,163.9 1292.5,163.9 1383.9,163.9 1475.4,163.9 1566.9,164.0 1658.4,164.0 1749.8,164.1 1841.3,164.2 1932.8,164.2 2024.3,164.3 2115.7,164.4 2207.2,164.5 2298.7,164.6 2390.2,164.7 2408.4,164.7"/>
</g>
<rect x="498.6" y="846.2" width="829.4" height="671.9" fill="#fff"/>
<g stroke="#000" stroke-width="2.3" fill="none">
<rect x="498.6" y="846.2" width="829.4" height="671.9"/>
<line x1="498.6" y1="1383.7" x2="510.4" y2="1383.7"/>
<line x1="498.6" y1="1249.3" x2="510.4" y2="1249.3"/>
<line x1="498.6" y1="1115.0" x2="510.4" y2="1115.0"/>
<line x1="498.6" y1="980.6" x2="510.4" y2="980.6"/>
<line x1="498.6" y1="1450.9" x2="504.5" y2="1450.9"/>
<line x1="498.6" y1="1316.5" x2="504.5" y2="1316.5"/>
<line x1="498.6" y1="1182.2" x2="504.5" y2="1182.2"/>
<line x1="498.6" y1="1047.8" x2="504.5" y2="1047.8"/>
<line x1="498.6" y1="913.4" x2="504.5" y2="913.4"/>
<line x1="913.3" y1="1518.1" x2="913.3" y2="1506.3"/>
<line x1="706.0" y1="1518.1" x2="706.0" y2="1512.2"/>
<line x1="1120.7" y1="1518.1" x2="1120.7" y2="1512.2"/>
</g>
<g clip-path="url(#ci)" fill="none" stroke-width="6.5" stroke-linejoin="round">
<polyline stroke="#fd3f3f" points="490.3,1329.0 493.6,1329.5 496.9,1329.9 500.3,1330.4 503.6,1330.9 506.9,1331.4 510.2,1331.9 513.5,1332.4 516.8,1332.9 520.2,1333.5 523.5,1334.0 526.8,1334.5 530.1,1335.1 533.4,1335.6 536.8,1336.2 540.1,1336.8 543.4,1337.4 546.7,1338.0 550.0,1338.6 553.3,1339.2 556.7,1339.8 560.0,1340.4 563.3,1341.0 566.6,1341.7 569.9,1342.3 573.2,1343.0 576.6,1343.6 579.9,1344.3 583.2,1345.0 586.5,1345.6 589.8,1346.3 593.2,1347.0 596.5,1347.7 599.8,1348.5 603.1,1349.2 606.4,1349.9 609.7,1350.6 613.1,1351.4 616.4,1352.1 619.7,1352.9 623.0,1353.7 626.3,1354.5 629.6,1355.2 633.0,1356.0 636.3,1356.8 639.6,1357.6 642.9,1358.5 646.2,1359.3 649.6,1360.1 652.9,1361.0 656.2,1361.8 659.5,1362.7 662.8,1363.5 666.1,1364.4 669.5,1365.3 672.8,1366.2 676.1,1367.1 679.4,1368.0 682.7,1368.9 686.0,1369.8 689.4,1370.8 692.7,1371.7 696.0,1372.6 699.3,1373.6 702.6,1374.6 706.0,1375.5 709.3,1376.5 712.6,1377.5 715.9,1378.5 719.2,1379.5 722.5,1380.5 725.9,1381.5 729.2,1382.5 732.5,1383.6 735.8,1384.6 739.1,1385.7 742.4,1386.7 745.8,1387.8 749.1,1388.9 752.4,1390.0 755.7,1391.1 759.0,1392.2 762.3,1393.3 765.7,1394.4 769.0,1395.5 772.3,1396.7 775.6,1397.8 778.9,1399.0 782.3,1400.1 785.6,1401.3 788.9,1402.5 792.2,1403.6 795.5,1404.8 798.8,1406.0 802.2,1407.3 805.5,1408.5 808.8,1409.7 812.1,1410.9 815.4,1412.2 818.7,1413.4 822.1,1414.7 825.4,1416.0 828.7,1417.2 832.0,1418.5 835.3,1419.8 838.7,1421.1 842.0,1422.4 845.3,1423.8 848.6,1425.1 851.9,1426.4 855.2,1427.8 858.6,1429.1 861.9,1430.5 865.2,1431.9 868.5,1433.3 871.8,1434.6 875.1,1436.0 878.5,1437.5 881.8,1438.9 885.1,1440.3 888.4,1441.7 891.7,1443.2 895.1,1444.6 898.4,1446.1 901.7,1447.5 905.0,1449.0 908.3,1450.5 911.6,1452.0 915.0,1453.5 918.3,1455.0 921.6,1456.5 924.9,1458.0 928.2,1459.5 931.5,1461.1 934.9,1462.6 938.2,1464.1 941.5,1465.7 944.8,1467.2 948.1,1468.7 951.5,1470.3 954.8,1471.8 958.1,1473.3 961.4,1474.9 964.7,1476.4 968.0,1478.0 971.4,1479.5 974.7,1481.0 978.0,1482.6 981.3,1484.1 984.6,1485.6 987.9,1487.1 991.3,1488.6 994.6,1490.1 997.9,1491.6 1001.2,1493.1 1004.5,1494.6 1007.9,1496.1 1011.2,1497.6 1014.5,1499.0 1017.8,1500.5 1021.1,1501.9 1024.4,1503.4 1027.8,1504.8 1031.1,1506.2 1034.4,1507.6 1037.7,1509.0 1041.0,1510.4 1044.3,1511.8 1047.7,1513.2 1051.0,1514.6 1054.3,1516.0 1057.6,1517.3 1060.9,1518.7 1064.3,1520.1 1067.6,1521.4 1070.9,1522.8 1074.2,1524.1 1077.5,1525.5 1080.8,1526.8 1084.2,1528.2 1087.5,1529.5 1090.8,1530.9 1094.1,1532.2 1097.4,1533.6 1100.7,1534.9 1104.1,1536.2 1107.4,1537.6 1110.7,1538.9 1114.0,1540.3 1117.3,1541.7 1120.7,1543.0 1124.0,1544.4 1127.3,1545.7 1130.6,1547.1 1133.9,1548.5 1137.2,1549.9 1140.6,1551.3 1143.9,1552.7 1147.2,1554.1 1150.5,1555.5 1153.8,1556.9 1157.1,1558.3 1160.5,1559.7 1163.8,1561.2 1167.1,1562.6 1170.4,1564.1 1173.7,1565.5 1177.0,1567.0 1180.4,1568.5 1183.7,1570.0 1187.0,1571.5 1190.3,1573.0 1193.6,1574.6 1197.0,1576.1 1200.3,1577.7 1203.6,1579.3 1206.9,1580.9 1210.2,1582.5 1213.5,1584.1 1216.9,1585.7 1220.2,1587.4 1223.5,1589.0 1226.8,1590.7 1230.1,1592.4 1233.4,1594.1 1236.8,1595.8 1240.1,1597.5 1243.4,1599.2 1246.7,1601.0 1250.0,1602.7 1253.4,1604.5 1256.7,1606.2 1260.0,1608.0 1263.3,1609.8 1266.6,1611.6 1269.9,1613.4 1273.3,1615.2 1276.6,1617.0 1279.9,1618.8 1283.2,1620.6 1286.5,1622.5 1289.8,1624.3 1293.2,1626.1 1296.5,1628.0 1299.8,1629.8 1303.1,1631.6 1306.4,1633.5 1309.8,1635.3 1313.1,1637.2 1316.4,1639.0 1319.7,1640.9 1323.0,1642.7 1326.3,1644.6 1329.7,1646.4 1333.0,1648.3 1336.3,1650.1"/>
<polyline stroke="#006de3" points="490.3,1343.3 493.6,1343.8 496.9,1344.2 500.3,1344.7 503.6,1345.2 506.9,1345.6 510.2,1346.1 513.5,1346.6 516.8,1347.1 520.2,1347.5 523.5,1348.0 526.8,1348.5 530.1,1349.0 533.4,1349.5 536.8,1350.0 540.1,1350.4 543.4,1350.9 546.7,1351.4 550.0,1351.9 553.3,1352.3 556.7,1352.8 560.0,1353.3 563.3,1353.7 566.6,1354.2 569.9,1354.7 573.2,1355.1 576.6,1355.5 579.9,1356.0 583.2,1356.4 586.5,1356.8 589.8,1357.3 593.2,1357.7 596.5,1358.1 599.8,1358.5 603.1,1358.9 606.4,1359.3 609.7,1359.6 613.1,1360.0 616.4,1360.4 619.7,1360.8 623.0,1361.2 626.3,1361.5 629.6,1361.9 633.0,1362.3 636.3,1362.7 639.6,1363.1 642.9,1363.5 646.2,1363.8 649.6,1364.2 652.9,1364.6 656.2,1365.0 659.5,1365.4 662.8,1365.9 666.1,1366.3 669.5,1366.7 672.8,1367.2 676.1,1367.6 679.4,1368.1 682.7,1368.5 686.0,1369.0 689.4,1369.5 692.7,1370.0 696.0,1370.5 699.3,1371.0 702.6,1371.6 706.0,1372.1 709.3,1372.7 712.6,1373.3 715.9,1373.9 719.2,1374.5 722.5,1375.1 725.9,1375.8 729.2,1376.4 732.5,1377.1 735.8,1377.8 739.1,1378.5 742.4,1379.2 745.8,1379.9 749.1,1380.6 752.4,1381.3 755.7,1382.0 759.0,1382.8 762.3,1383.5 765.7,1384.3 769.0,1385.1 772.3,1385.8 775.6,1386.6 778.9,1387.4 782.3,1388.2 785.6,1389.0 788.9,1389.8 792.2,1390.6 795.5,1391.4 798.8,1392.2 802.2,1393.1 805.5,1393.9 808.8,1394.7 812.1,1395.6 815.4,1396.4 818.7,1397.2 822.1,1398.1 825.4,1398.9 828.7,1399.8 832.0,1400.7 835.3,1401.5 838.7,1402.4 842.0,1403.3 845.3,1404.2 848.6,1405.1 851.9,1406.0 855.2,1406.8 858.6,1407.7 861.9,1408.7 865.2,1409.6 868.5,1410.5 871.8,1411.4 875.1,1412.3 878.5,1413.2 881.8,1414.2 885.1,1415.1 888.4,1416.0 891.7,1417.0 895.1,1417.9 898.4,1418.8 901.7,1419.8 905.0,1420.8 908.3,1421.7 911.6,1422.7 915.0,1423.6 918.3,1424.6 921.6,1425.6 924.9,1426.6 928.2,1427.6 931.5,1428.5 934.9,1429.5 938.2,1430.5 941.5,1431.6 944.8,1432.6 948.1,1433.6 951.5,1434.6 954.8,1435.7 958.1,1436.7 961.4,1437.8 964.7,1438.8 968.0,1439.9 971.4,1441.0 974.7,1442.0 978.0,1443.1 981.3,1444.2 984.6,1445.3 987.9,1446.5 991.3,1447.6 994.6,1448.7 997.9,1449.9 1001.2,1451.0 1004.5,1452.1 1007.9,1453.3 1011.2,1454.5 1014.5,1455.6 1017.8,1456.8 1021.1,1458.0 1024.4,1459.2 1027.8,1460.3 1031.1,1461.5 1034.4,1462.7 1037.7,1463.9 1041.0,1465.1 1044.3,1466.3 1047.7,1467.4 1051.0,1468.6 1054.3,1469.8 1057.6,1471.0 1060.9,1472.2 1064.3,1473.4 1067.6,1474.6 1070.9,1475.7 1074.2,1476.9 1077.5,1478.1 1080.8,1479.3 1084.2,1480.4 1087.5,1481.6 1090.8,1482.7 1094.1,1483.9 1097.4,1485.0 1100.7,1486.2 1104.1,1487.3 1107.4,1488.4 1110.7,1489.6 1114.0,1490.7 1117.3,1491.8 1120.7,1492.9 1124.0,1494.0 1127.3,1495.1 1130.6,1496.2 1133.9,1497.3 1137.2,1498.4 1140.6,1499.5 1143.9,1500.6 1147.2,1501.7 1150.5,1502.8 1153.8,1503.9 1157.1,1505.0 1160.5,1506.0 1163.8,1507.1 1167.1,1508.2 1170.4,1509.3 1173.7,1510.4 1177.0,1511.5 1180.4,1512.6 1183.7,1513.7 1187.0,1514.8 1190.3,1515.9 1193.6,1517.0 1197.0,1518.1 1200.3,1519.2 1203.6,1520.3 1206.9,1521.4 1210.2,1522.5 1213.5,1523.6 1216.9,1524.7 1220.2,1525.8 1223.5,1526.9 1226.8,1528.0 1230.1,1529.1 1233.4,1530.2 1236.8,1531.3 1240.1,1532.4 1243.4,1533.5 1246.7,1534.6 1250.0,1535.8 1253.4,1536.9 1256.7,1538.0 1260.0,1539.1 1263.3,1540.2 1266.6,1541.3 1269.9,1542.5 1273.3,1543.6 1276.6,1544.7 1279.9,1545.8 1283.2,1547.0 1286.5,1548.1 1289.8,1549.2 1293.2,1550.3 1296.5,1551.5 1299.8,1552.6 1303.1,1553.7 1306.4,1554.8 1309.8,1556.0 1313.1,1557.1 1316.4,1558.2 1319.7,1559.4 1323.0,1560.5 1326.3,1561.6 1329.7,1562.8 1333.0,1563.9 1336.3,1565.0"/>
<polyline stroke="#00ae68" points="490.3,1366.7 493.6,1367.1 496.9,1367.5 500.3,1368.0 503.6,1368.4 506.9,1368.8 510.2,1369.2 513.5,1369.6 516.8,1370.0 520.2,1370.4 523.5,1370.8 526.8,1371.2 530.1,1371.6 533.4,1372.0 536.8,1372.4 540.1,1372.8 543.4,1373.2 546.7,1373.6 550.0,1374.0 553.3,1374.4 556.7,1374.8 560.0,1375.2 563.3,1375.6 566.6,1376.0 569.9,1376.4 573.2,1376.8 576.6,1377.2 579.9,1377.6 583.2,1378.0 586.5,1378.4 589.8,1378.7 593.2,1379.1 596.5,1379.5 599.8,1379.9 603.1,1380.3 606.4,1380.7 609.7,1381.0 613.1,1381.4 616.4,1381.8 619.7,1382.2 623.0,1382.6 626.3,1382.9 629.6,1383.3 633.0,1383.7 636.3,1384.1 639.6,1384.5 642.9,1384.9 646.2,1385.3 649.6,1385.7 652.9,1386.1 656.2,1386.5 659.5,1386.9 662.8,1387.3 666.1,1387.7 669.5,1388.1 672.8,1388.5 676.1,1388.9 679.4,1389.4 682.7,1389.8 686.0,1390.2 689.4,1390.7 692.7,1391.1 696.0,1391.6 699.3,1392.0 702.6,1392.5 706.0,1393.0 709.3,1393.5 712.6,1393.9 715.9,1394.4 719.2,1394.9 722.5,1395.4 725.9,1396.0 729.2,1396.5 732.5,1397.0 735.8,1397.6 739.1,1398.1 742.4,1398.7 745.8,1399.2 749.1,1399.8 752.4,1400.4 755.7,1401.0 759.0,1401.6 762.3,1402.2 765.7,1402.8 769.0,1403.5 772.3,1404.1 775.6,1404.8 778.9,1405.4 782.3,1406.1 785.6,1406.8 788.9,1407.5 792.2,1408.2 795.5,1408.9 798.8,1409.7 802.2,1410.4 805.5,1411.2 808.8,1411.9 812.1,1412.7 815.4,1413.5 818.7,1414.3 822.1,1415.1 825.4,1415.9 828.7,1416.8 832.0,1417.6 835.3,1418.5 838.7,1419.3 842.0,1420.2 845.3,1421.1 848.6,1422.0 851.9,1422.9 855.2,1423.8 858.6,1424.7 861.9,1425.6 865.2,1426.5 868.5,1427.5 871.8,1428.4 875.1,1429.4 878.5,1430.4 881.8,1431.3 885.1,1432.3 888.4,1433.3 891.7,1434.3 895.1,1435.3 898.4,1436.3 901.7,1437.3 905.0,1438.3 908.3,1439.4 911.6,1440.4 915.0,1441.5 918.3,1442.5 921.6,1443.6 924.9,1444.6 928.2,1445.7 931.5,1446.8 934.9,1447.9 938.2,1448.9 941.5,1450.0 944.8,1451.1 948.1,1452.2 951.5,1453.3 954.8,1454.5 958.1,1455.6 961.4,1456.7 964.7,1457.8 968.0,1459.0 971.4,1460.1 974.7,1461.2 978.0,1462.4 981.3,1463.5 984.6,1464.7 987.9,1465.8 991.3,1467.0 994.6,1468.1 997.9,1469.3 1001.2,1470.5 1004.5,1471.6 1007.9,1472.8 1011.2,1474.0 1014.5,1475.2 1017.8,1476.3 1021.1,1477.5 1024.4,1478.7 1027.8,1479.9 1031.1,1481.0 1034.4,1482.2 1037.7,1483.4 1041.0,1484.6 1044.3,1485.7 1047.7,1486.9 1051.0,1488.1 1054.3,1489.2 1057.6,1490.4 1060.9,1491.6 1064.3,1492.8 1067.6,1493.9 1070.9,1495.1 1074.2,1496.2 1077.5,1497.4 1080.8,1498.5 1084.2,1499.7 1087.5,1500.8 1090.8,1502.0 1094.1,1503.1 1097.4,1504.2 1100.7,1505.4 1104.1,1506.5 1107.4,1507.6 1110.7,1508.7 1114.0,1509.8 1117.3,1510.9 1120.7,1512.0 1124.0,1513.1 1127.3,1514.1 1130.6,1515.2 1133.9,1516.3 1137.2,1517.3 1140.6,1518.4 1143.9,1519.4 1147.2,1520.5 1150.5,1521.5 1153.8,1522.5 1157.1,1523.5 1160.5,1524.5 1163.8,1525.5 1167.1,1526.6 1170.4,1527.6 1173.7,1528.6 1177.0,1529.6 1180.4,1530.6 1183.7,1531.6 1187.0,1532.7 1190.3,1533.7 1193.6,1534.7 1197.0,1535.8 1200.3,1536.8 1203.6,1537.9 1206.9,1539.0 1210.2,1540.1 1213.5,1541.2 1216.9,1542.3 1220.2,1543.4 1223.5,1544.6 1226.8,1545.7 1230.1,1546.9 1233.4,1548.0 1236.8,1549.2 1240.1,1550.4 1243.4,1551.6 1246.7,1552.8 1250.0,1554.0 1253.4,1555.3 1256.7,1556.5 1260.0,1557.7 1263.3,1559.0 1266.6,1560.2 1269.9,1561.5 1273.3,1562.8 1276.6,1564.0 1279.9,1565.3 1283.2,1566.6 1286.5,1567.9 1289.8,1569.2 1293.2,1570.5 1296.5,1571.8 1299.8,1573.1 1303.1,1574.4 1306.4,1575.7 1309.8,1577.0 1313.1,1578.3 1316.4,1579.7 1319.7,1581.0 1323.0,1582.3 1326.3,1583.6 1329.7,1584.9 1333.0,1586.3 1336.3,1587.6"/>
<polyline stroke="#c278e4" points="493.6,859.6 1333.0,860.3"/>
</g>
<g stroke="#ff0000" fill="none">
<rect x="887.0" y="92.6" width="400.3" height="278.6" stroke-width="12.0"/>
<line x1="879.4" y1="366.9" x2="502.9" y2="849.2" stroke-width="8.3"/>
<line x1="1291.0" y1="372.0" x2="1326.4" y2="848.9" stroke-width="7.3"/>
</g>
<g fill="none" stroke-width="17.8" stroke-linecap="round">
<line stroke="#535353" x1="1953.6" y1="668.9" x2="2151.2" y2="668.9"/>
<line stroke="#fd3f3f" x1="1953.6" y1="777.3" x2="2151.2" y2="777.3"/>
<line stroke="#006de3" x1="1953.6" y1="885.7" x2="2151.2" y2="885.7"/>
<line stroke="#00ae68" x1="1953.6" y1="994.1" x2="2151.2" y2="994.1"/>
<line stroke="#c278e4" x1="1953.6" y1="1102.5" x2="2151.2" y2="1102.5"/>
</g>
<g font-size="88.0">
<text x="2174.8" y="699.2">PAA</text>
<text x="2174.8" y="807.7">a</text>
<text x="2174.8" y="916.2">b</text>
<text x="2174.8" y="1024.7">c</text>
<text x="2174.8" y="1133.2">d</text>
</g>
<g font-size="72.0" text-anchor="end">
<text transform="translate(259.0 1488.1) scale(1 1.028)">0</text>
<text transform="translate(259.0 1227.2) scale(1 1.028)">20</text>
<text transform="translate(259.0 966.4) scale(1 1.028)">40</text>
<text transform="translate(259.0 705.5) scale(1 1.028)">60</text>
<text transform="translate(259.0 444.6) scale(1 1.028)">80</text>
<text transform="translate(259.0 183.7) scale(1 1.028)">100</text>
</g>
<g font-size="72.0" text-anchor="middle">
<text transform="translate(295.4 1819.2) scale(1 1.028)">120</text>
<text transform="translate(661.3 1819.2) scale(1 1.028)">200</text>
<text transform="translate(1118.7 1819.2) scale(1 1.028)">300</text>
<text transform="translate(1576.0 1819.2) scale(1 1.028)">400</text>
<text transform="translate(2033.4 1819.2) scale(1 1.028)">500</text>
<text transform="translate(2399.3 1819.2) scale(1 1.028)">580</text>
</g>
<text font-size="88.0" text-anchor="middle" x="1348.6" y="1969.8">Temperature (<tspan font-size="94.2">℃</tspan><tspan dx="2.5">)</tspan></text>
<text font-size="88.4" text-anchor="middle" transform="translate(103.0 875.1) rotate(-90)" xml:space="preserve">Weight  Loss (%)</text>
<g fill="none" stroke-width="6.8" stroke-linecap="round">
<line stroke="#fd3f3f" x1="1153.3" y1="1104.9" x2="1254.8" y2="1104.9"/>
<line stroke="#006de3" x1="1153.3" y1="1161.1" x2="1254.8" y2="1161.1"/>
<line stroke="#00ae68" x1="1153.3" y1="1217.3" x2="1254.8" y2="1217.3"/>
<line stroke="#c278e4" x1="1153.3" y1="1273.5" x2="1254.8" y2="1273.5"/>
</g>
<g font-size="45.0">
<text x="1267.2" y="1120.7">a</text>
<text x="1267.2" y="1176.8">b</text>
<text x="1267.2" y="1232.9">c</text>
<text x="1267.2" y="1289.0">d</text>
</g>
<g font-size="45.0" text-anchor="end">
<text transform="translate(484.3 1531.9) scale(1 1.028)">90</text>
<text transform="translate(484.3 1397.5) scale(1 1.028)">92</text>
<text transform="translate(484.3 1263.1) scale(1 1.028)">94</text>
<text transform="translate(484.3 1128.8) scale(1 1.028)">96</text>
<text transform="translate(484.3 994.4) scale(1 1.028)">98</text>
<text transform="translate(484.3 860.0) scale(1 1.028)">100</text>
</g>
<g font-size="45.0" text-anchor="middle">
<text transform="translate(498.6 1567.1) scale(1 1.028)">250</text>
<text transform="translate(913.3 1567.1) scale(1 1.028)">300</text>
<text transform="translate(1328.0 1567.1) scale(1 1.028)">350</text>
</g>
<text font-size="53.3" text-anchor="middle" x="914.0" y="1648.4">Temperature (<tspan font-size="57.0">℃</tspan><tspan dx="1.5">)</tspan></text>
<text font-size="53.6" text-anchor="middle" transform="translate(390.3 1179.9) rotate(-90)" xml:space="preserve">Weight  Loss (%)</text>
</svg></body></html>
